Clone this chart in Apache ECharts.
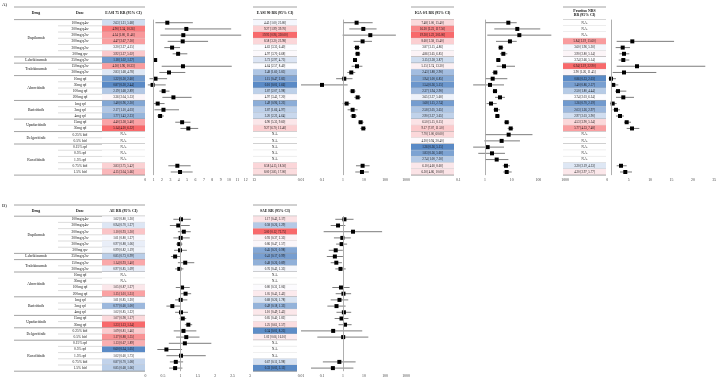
<!DOCTYPE html>
<html>
<head>
<meta charset="utf-8">
<script src="https://cdn.jsdelivr.net/npm/echarts@6/dist/echarts.min.js"></script>
<style>
  html, body { margin: 0; padding: 0; background: #fff; }
  #chart { width: 718px; height: 380px; }
</style>
</head>
<body>
<div id="chart"></div>
<script>
// rows of both tables
const drugNames = ['Dupilumab', 'Lebrikizumab', 'Tralokinumab', 'Abrocitinib', 'Baricitinib', 'Upadacitinib', 'Delgocitinib', 'Ruxolitinib']
const drugRows = [6, 1, 2, 4, 3, 2, 2, 5]
const doses = ['100mg q4w', '300mg q4w', '200mg q2w', '300mg q2w', '300mg q2w', '300mg qw', '250mg q2w',
  '150mg q2w', '300mg q2w', '10mg qd', '30mg qd', '100mg qd', '200mg qd', '1mg qd', '2mg qd', '4mg qd',
  '15mg qd', '30mg qd', '0.25% bid', '0.5% bid', '0.15% qd', '0.5% qd', '1.5% qd', '0.75% bid', '1.5% bid']

// [RR, lower, upper], null = N.A.
const easi75 = [[2.63, 1.21, 5.68], [4.90, 2.34, 10.26], [4.54, 1.80, 11.46], [4.47, 2.67, 7.50], [3.20, 2.27, 4.15],
  [3.92, 3.27, 5.02], [1.18, 1.02, 1.37], [4.50, 1.96, 10.33], [2.83, 1.68, 4.78], [1.22, 0.50, 2.60],
  [0.87, 0.30, 2.44], [2.19, 1.68, 2.89], [3.36, 2.04, 5.53], [1.48, 0.96, 2.30], [2.17, 1.10, 4.03],
  [1.77, 1.43, 2.23], [4.40, 3.58, 5.40], [5.14, 4.20, 6.32], null, null, null, null, null,
  [3.83, 2.75, 5.42], [4.15, 3.04, 5.66]]
const easi90 = [[4.45, 1.00, 25.80], [9.27, 1.99, 39.70], [19.95, 0.96, 330.00], [8.58, 3.20, 23.98], [4.63, 3.35, 6.40],
  [4.97, 3.70, 6.68], [3.73, 2.97, 4.75], [4.64, 2.57, 8.40], [2.48, 1.60, 3.85], [1.15, 0.47, 2.83],
  [0.10, 0.01, 1.66], [2.87, 2.07, 3.98], [4.97, 3.45, 7.20], [1.49, 0.96, 2.23], [2.87, 1.66, 4.97],
  [3.20, 2.23, 4.64], [6.90, 5.35, 9.60], [9.27, 6.70, 12.40], null, null, null, null, null,
  [8.58, 4.15, 18.50], [8.00, 3.85, 17.00]]
const iga = [[7.48, 1.00, 15.40], [16.20, 2.23, 117.50], [19.30, 1.22, 305.00], [8.60, 2.58, 15.40], [3.87, 3.15, 4.86],
  [4.86, 3.65, 6.85], [3.15, 2.58, 3.87], [5.15, 2.74, 13.30], [2.43, 1.88, 2.90], [1.94, 1.00, 6.85],
  [1.54, 0.36, 5.15], [2.37, 1.94, 2.90], [3.65, 2.37, 5.60], [1.68, 1.15, 2.74], [2.58, 2.05, 3.65],
  [2.90, 2.37, 3.65], [6.50, 5.15, 8.15], [9.17, 7.07, 11.50], [7.70, 1.00, 60.00], [4.20, 0.94, 20.40],
  [1.26, 0.36, 5.15], [1.83, 0.56, 5.60], [2.74, 1.00, 7.50], [6.10, 4.60, 8.60], [6.50, 4.86, 10.00]]
const pruritus = [null, null, null, [5.84, 2.19, 15.60], [3.60, 1.96, 5.30],
  [3.90, 2.80, 5.14], [3.74, 2.66, 5.14], [6.94, 2.19, 22.90], [3.90, 1.26, 11.45], [0.86, 0.33, 2.03],
  [1.40, 0.86, 2.57], [2.50, 1.80, 4.44], [3.74, 2.03, 6.24], [1.26, 0.70, 2.19], [2.03, 1.26, 2.97],
  [2.97, 2.03, 3.90], [4.53, 3.90, 5.54], [5.77, 4.53, 7.48], null, null, null, null, null,
  [3.20, 2.19, 4.53], [4.20, 2.97, 5.77]]
const ae = [[1.02, 0.80, 1.30], [0.94, 0.70, 1.27], [1.10, 0.93, 1.30], [1.01, 0.80, 1.27], [0.97, 0.88, 1.06],
  [0.99, 0.82, 1.19], [0.85, 0.73, 0.99], [1.14, 0.93, 1.40], [0.97, 0.85, 1.09], null,
  null, [1.05, 0.87, 1.27], [1.15, 1.01, 1.31], [1.01, 0.85, 1.20], [0.77, 0.60, 1.00],
  [1.02, 0.85, 1.22], [1.07, 0.98, 1.17], [1.23, 1.13, 1.34], [1.09, 0.81, 1.46], [1.17, 0.88, 1.55],
  [1.13, 0.67, 1.89], [0.60, 0.34, 1.05], [1.02, 0.60, 1.73], [0.87, 0.70, 1.08], [0.85, 0.68, 1.06]]
const sae = [[1.17, 0.43, 3.17], [0.58, 0.26, 1.29], [3.00, 0.12, 72.75], [0.93, 0.37, 2.35], [0.86, 0.47, 1.57],
  [0.45, 0.21, 0.98], [0.41, 0.17, 0.99], [0.48, 0.26, 0.89], [0.76, 0.43, 1.35], null,
  null, [0.80, 0.31, 2.06], [1.05, 0.45, 2.43], [0.68, 0.26, 1.78], [0.49, 0.18, 1.33],
  [1.10, 0.49, 2.45], [0.85, 0.40, 1.82], [1.25, 0.61, 2.57], [0.34, 0.01, 8.25], [1.02, 0.06, 16.10],
  null, null, null, [0.67, 0.11, 3.98], [0.33, 0.03, 3.13]]

const ROWS = doses.map((d, i) => i)
const FONT = '"Liberation Serif", "DejaVu Serif", serif'
const LINE = '#8c8c8c'
const LINE_LIGHT = '#c4c4c4'

// last row of each drug
const groupEnd = new Set()
let acc = 0
drugRows.forEach(n => { acc += n; groupEnd.add(acc - 1) })

function fmt(d) {
  if (!d) return 'N.A.'
  return d[0].toFixed(2) + ' [' + d[1].toFixed(2) + ', ' + d[2].toFixed(2) + ']'
}

// excel-like blue / white / red scale, midpoint = median
function scaleColors(vals) {
  const v = vals.filter(d => d).map(d => d[0]).sort((a, b) => a - b)
  const min = v[0], max = v[v.length - 1]
  const pos = (v.length - 1) / 2
  const med = v[Math.floor(pos)] + (v[Math.ceil(pos)] - v[Math.floor(pos)]) * (pos - Math.floor(pos))
  const lo = [90, 138, 198], mid = [252, 252, 255], hi = [248, 105, 107]
  return vals.map(d => {
    if (!d) return '#ffffff'
    let a, b, t
    if (d[0] <= med) { a = lo; b = mid; t = (d[0] - min) / (med - min || 1) }
    else { a = mid; b = hi; t = (d[0] - med) / (max - med || 1) }
    const c = a.map((x, k) => Math.round(x + (b[k] - x) * t))
    return 'rgb(' + c.join(',') + ')'
  })
}

const grids = [], xAxes = [], yAxes = [], series = [], graphics = []

function addGrid(left, right, top, height, xAxis) {
  const idx = grids.length
  grids.push({ left: left, top: top, width: right - left, height: height, containLabel: false, outerBoundsMode: 'none' })
  xAxes.push(Object.assign({ gridIndex: idx }, xAxis))
  yAxes.push({ gridIndex: idx, type: 'category', data: ROWS, inverse: true, show: false })
  return idx
}
const hiddenX = { type: 'value', min: 0, max: 1, show: false }

function drugColumn(left, right, top, height) {
  const g = addGrid(left, right, top, height, hiddenX)
  let start = 0
  const data = drugRows.map(n => { const d = [0.5, start, start + n - 1]; start += n; return d })
  series.push({
    type: 'custom', xAxisIndex: g, yAxisIndex: g, silent: true, animation: false,
    encode: { x: 0, y: 1 }, data: data,
    renderItem(params, api) {
      const h = api.size([0, 1])[1]
      const a = api.coord([0, api.value(1)]), b = api.coord([1, api.value(2)])
      const yb = b[1] + h / 2
      return { type: 'group', children: [
        { type: 'text', style: { text: drugNames[params.dataIndex], x: (a[0] + b[0]) / 2, y: (a[1] + b[1]) / 2,
          align: 'center', verticalAlign: 'middle', font: '3.8px ' + FONT, fill: '#111' } },
        { type: 'line', shape: { x1: a[0], y1: yb, x2: b[0], y2: yb }, style: { stroke: LINE, lineWidth: 0.8 } }
      ] }
    }
  })
}

function textColumn(left, right, top, height, texts, colors, fontSize) {
  const g = addGrid(left, right, top, height, hiddenX)
  series.push({
    type: 'custom', xAxisIndex: g, yAxisIndex: g, silent: true, animation: false,
    encode: { x: 0, y: 1 }, data: ROWS.map(i => [0.5, i]),
    renderItem(params, api) {
      const i = params.dataIndex
      const h = api.size([0, 1])[1]
      const a = api.coord([0, i]), b = api.coord([1, i])
      const yt = a[1] - h / 2, yb = a[1] + h / 2
      const kids = []
      if (colors) kids.push({ type: 'rect', shape: { x: a[0], y: yt, width: b[0] - a[0], height: h }, style: { fill: colors[i] } })
      kids.push({ type: 'text', style: { text: texts[i], x: (a[0] + b[0]) / 2, y: a[1], align: 'center',
        verticalAlign: 'middle', font: fontSize + 'px ' + FONT, fill: '#111' } })
      const last = groupEnd.has(i)
      kids.push({ type: 'line', shape: { x1: a[0], y1: yb, x2: b[0], y2: yb },
        style: { stroke: last ? LINE : LINE_LIGHT, lineWidth: last ? 0.8 : 0.6 } })
      return { type: 'group', children: kids }
    }
  })
}

function forestColumn(left, right, top, height, vals, xAxis) {
  const g = addGrid(left, right, top, height, Object.assign({
    axisLine: { show: false }, axisTick: { show: false }, splitLine: { show: false },
    axisLabel: { fontSize: 3.8, color: '#404040', fontFamily: FONT, margin: 2.5,
      formatter: v => String(+(+v).toPrecision(3)) }
  }, xAxis))
  const data = []
  vals.forEach((d, i) => { if (d) data.push([d[0], i, d[1], d[2]]) })
  series.push({
    type: 'custom', xAxisIndex: g, yAxisIndex: g, silent: true, animation: false, clip: false,
    encode: { x: [0, 2, 3], y: 1 }, data: data,
    renderItem(params, api) {
      const p = api.coord([api.value(0), api.value(1)])
      const lo = api.coord([api.value(2), api.value(1)])
      const hi = api.coord([api.value(3), api.value(1)])
      const s = 4
      return { type: 'group', children: [
        { type: 'line', shape: { x1: lo[0], y1: p[1], x2: hi[0], y2: p[1] }, style: { stroke: '#6e6e6e', lineWidth: 0.9 } },
        { type: 'rect', shape: { x: p[0] - s / 2, y: p[1] - s / 2, width: s, height: s }, style: { fill: '#000' } }
      ] }
    },
    markLine: {
      silent: true, animation: false, symbol: ['none', 'none'], label: { show: false },
      lineStyle: { color: '#a6a6a6', width: 0.9, type: 'solid' },
      data: [{ xAxis: 1 }]
    }
  })
}

function hLine(x1, x2, y) {
  graphics.push({ type: 'line', silent: true, shape: { x1: x1, y1: y, x2: x2, y2: y }, style: { stroke: LINE, lineWidth: 0.8 } })
}
function hText(x, y, text, size, bold) {
  graphics.push({ type: 'text', silent: true, x: x, y: y, style: { text: text, align: 'center', verticalAlign: 'middle',
    font: (bold ? 'bold ' : '') + size + 'px ' + FONT, fill: '#111', lineHeight: 4.4 } })
}

const COL = { drug: [14, 58], dose: [58, 102], v1: [102, 145], v2: [253, 297], v3: [411, 454], v4: [563, 606] }
const mid = c => (c[0] + c[1]) / 2

// ---- panel A
const A = { top: 19.6, h: 155.5, line0: 7, head: 13.3 }
drugColumn(COL.drug[0], COL.drug[1], A.top, A.h)
textColumn(COL.dose[0], COL.dose[1], A.top, A.h, doses, null, 3.6)
textColumn(COL.v1[0], COL.v1[1], A.top, A.h, easi75.map(fmt), scaleColors(easi75), 3.1)
forestColumn(145.3, 254.1, A.top, A.h, easi75, { type: 'value', min: 0, max: 13, interval: 1 })
textColumn(COL.v2[0], COL.v2[1], A.top, A.h, easi90.map(fmt), scaleColors(easi90), 3.1)
forestColumn(301, 406, A.top, A.h, easi90, { type: 'log', logBase: 10, min: 0.01, max: 1000 })
textColumn(COL.v3[0], COL.v3[1], A.top, A.h, iga.map(fmt), scaleColors(iga), 3.1)
forestColumn(458.3, 565.1, A.top, A.h, iga, { type: 'log', logBase: 10, min: 0.1, max: 1000 })
textColumn(COL.v4[0], COL.v4[1], A.top, A.h, pruritus.map(fmt), scaleColors(pruritus), 3.1)
forestColumn(607.3, 714.3, A.top, A.h, pruritus, { type: 'value', min: 0, max: 25, interval: 5 })

hLine(COL.drug[0], COL.v1[1], A.line0); hLine(COL.drug[0], COL.v1[1], A.top)
hLine(COL.v2[0], COL.v2[1], A.line0); hLine(COL.v2[0], COL.v2[1], A.top)
hLine(COL.v3[0], COL.v3[1], A.line0); hLine(COL.v3[0], COL.v3[1], A.top)
hLine(COL.v4[0], COL.v4[1], A.line0); hLine(COL.v4[0], COL.v4[1], A.top)
hText(mid(COL.drug), A.head, 'Drug', 3.8, true)
hText(mid(COL.dose), A.head, 'Dose', 3.8, true)
hText(mid(COL.v1), A.head, 'EASI 75 RR (95% CI)', 3.8, true)
hText(mid(COL.v2), A.head, 'EASI 90 RR (95% CI)', 3.8, true)
hText(mid(COL.v3), A.head, 'IGA 0/1 RR (95% CI)', 3.8, true)
hText(mid(COL.v4), A.head, 'Pruritus NRS\nRR (95% CI)', 3.8, true)
graphics.push({ type: 'text', silent: true, x: 2, y: 5, style: { text: 'A)', font: '5px ' + FONT, fill: '#111', verticalAlign: 'middle' } })

// ---- panel B
const B = { top: 216.2, h: 155, line0: 205, head: 211.2 }
drugColumn(COL.drug[0], COL.drug[1], B.top, B.h)
textColumn(COL.dose[0], COL.dose[1], B.top, B.h, doses, null, 3.6)
textColumn(COL.v1[0], COL.v1[1], B.top, B.h, ae.map(fmt), scaleColors(ae), 3.1)
forestColumn(145.5, 250, B.top, B.h, ae, { type: 'value', min: 0, max: 3, interval: 0.5 })
textColumn(COL.v2[0], COL.v2[1], B.top, B.h, sae.map(fmt), scaleColors(sae), 3.1)
forestColumn(301, 406, B.top, B.h, sae, { type: 'log', logBase: 10, min: 0.01, max: 1000 })

hLine(COL.drug[0], COL.v1[1], B.line0); hLine(COL.drug[0], COL.v1[1], B.top)
hLine(COL.v2[0], COL.v2[1], B.line0); hLine(COL.v2[0], COL.v2[1], B.top)
hText(mid(COL.drug), B.head, 'Drug', 3.8, true)
hText(mid(COL.dose), B.head, 'Dose', 3.8, true)
hText(mid(COL.v1), B.head, 'AE RR (95% CI)', 3.8, true)
hText(mid(COL.v2), B.head, 'SAE RR (95% CI)', 3.8, true)
graphics.push({ type: 'text', silent: true, x: 2, y: 205.5, style: { text: 'B)', font: '5px ' + FONT, fill: '#111', verticalAlign: 'middle' } })

const chart = echarts.init(document.getElementById('chart'))
chart.setOption({
  animation: false,
  backgroundColor: '#ffffff',
  grid: grids,
  xAxis: xAxes,
  yAxis: yAxes,
  series: series,
  graphic: graphics
})
</script>
</body>
</html>
